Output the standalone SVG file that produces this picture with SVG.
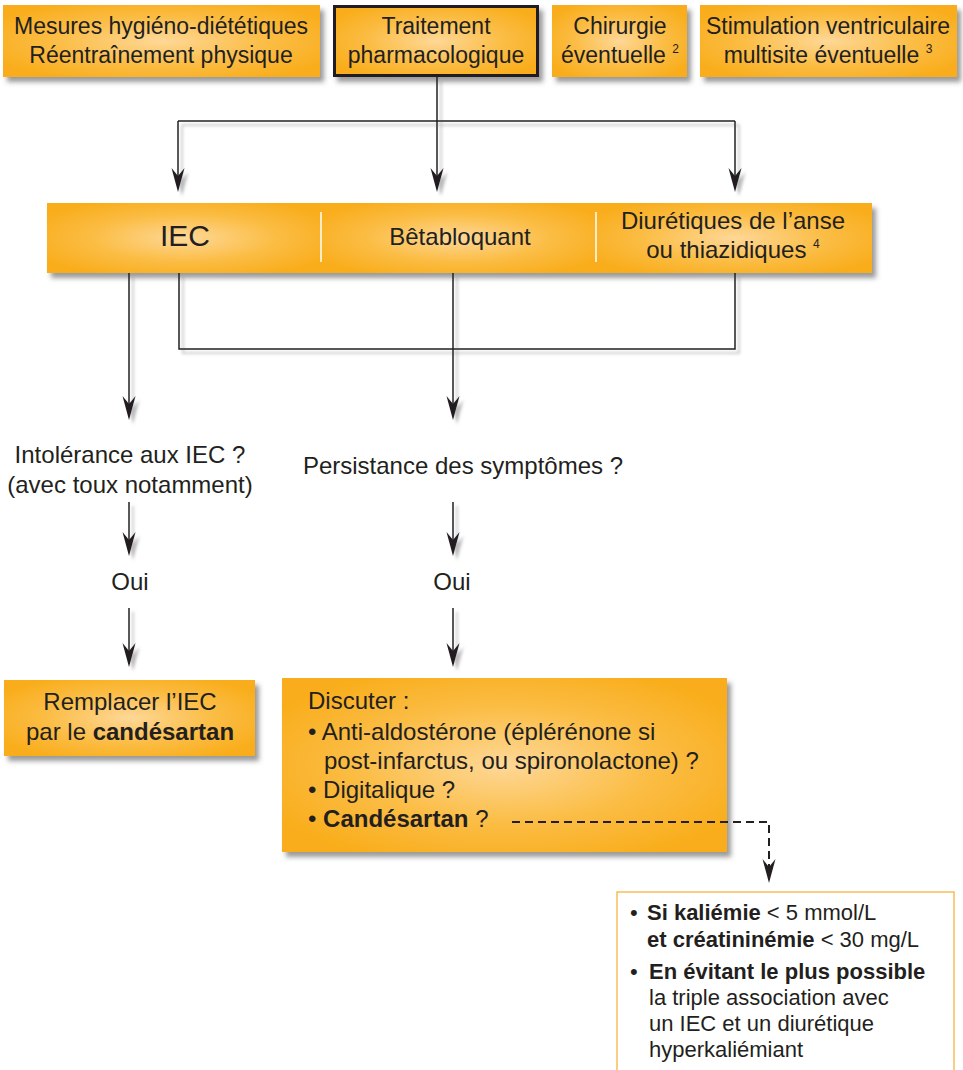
<svg xmlns="http://www.w3.org/2000/svg" width="963" height="1070" viewBox="0 0 963 1070">
<defs>
<radialGradient id="og" cx="0.5" cy="0.5" r="0.6">
<stop offset="0" stop-color="#fed898"/>
<stop offset="0.55" stop-color="#fbbd45"/>
<stop offset="1" stop-color="#f9ad1b"/>
</radialGradient>
<filter id="sh" x="-10%" y="-20%" width="125%" height="150%">
<feDropShadow dx="4" dy="5" stdDeviation="2.5" flood-color="#4a4a4a" flood-opacity="0.55"/>
</filter>
<filter id="lsh" x="-20%" y="-20%" width="140%" height="140%">
<feDropShadow dx="4" dy="4" stdDeviation="1.6" flood-color="#777" flood-opacity="0.5"/>
</filter>
<marker id="ah" markerUnits="userSpaceOnUse" viewBox="-25 -8 26 16" markerWidth="26" markerHeight="16" refX="-4" refY="0" orient="auto">
<path d="M0,0 L-24,-6.5 L-16,0 L-24,6.5 Z" fill="#231f20"/>
</marker>
</defs>
<style>
text{font-family:"Liberation Sans",Arial,sans-serif;fill:#231f20}
.c{text-anchor:middle}
.t23{font-size:23px}
.t24{font-size:24px}
.t22{font-size:22px}
.b{font-weight:bold}
.sup{font-size:12px}
.box{fill:url(#og);filter:url(#sh)}
.ln{fill:none;stroke:#231f20;stroke-width:1.5}
.dash{fill:none;stroke:#231f20;stroke-width:2;stroke-dasharray:8 5}
</style>

<g id="n-mesures">
<rect class="box" x="3" y="5" width="317" height="72"/>
<text class="c t23" x="161" y="34">Mesures hygiéno-diététiques</text>
<text class="c t23" x="161" y="63">Réentraînement physique</text>
</g>

<g id="n-traitement">
<rect class="box" x="334.5" y="6.5" width="203" height="69" stroke="#231f20" stroke-width="3"/>
<text class="c t23" x="436" y="34">Traitement</text>
<text class="c t23" x="436" y="63">pharmacologique</text>
</g>

<g id="n-chirurgie">
<rect class="box" x="552" y="5" width="135" height="72"/>
<text class="c t23" x="620" y="34">Chirurgie</text>
<text class="c t23" x="620" y="63">éventuelle <tspan class="sup" dy="-10">2</tspan></text>
</g>

<g id="n-stimulation">
<rect class="box" x="700" y="5" width="257" height="72"/>
<text class="c t23" x="828" y="34">Stimulation ventriculaire</text>
<text class="c t23" x="828" y="63">multisite éventuelle <tspan class="sup" dy="-10">3</tspan></text>
</g>

<g id="n-bar">
<rect x="47" y="203" width="825" height="70" fill="#f9ad1b" filter="url(#sh)"/>
<rect x="47" y="203" width="274" height="70" fill="url(#og)"/>
<rect x="321" y="203" width="275" height="70" fill="url(#og)"/>
<rect x="596" y="203" width="276" height="70" fill="url(#og)"/>
<path d="M321,212 V262 M596,212 V262" stroke="#fff" stroke-width="1.5"/>
<text class="c" x="185" y="246" font-size="30">IEC</text>
<text class="c t24" x="460" y="245">Bêtabloquant</text>
<text class="c t24" x="733" y="229">Diurétiques de l’anse</text>
<text class="c t24" x="733" y="258">ou thiazidiques <tspan class="sup" dy="-10">4</tspan></text>
</g>

<g id="n-intolerance">
<text class="c t24" x="130" y="463">Intolérance aux IEC ?</text>
<text class="c t24" x="130" y="493">(avec toux notamment)</text>
</g>

<g id="n-persistance">
<text class="c t24" x="463" y="474">Persistance des symptômes ?</text>
</g>

<g id="n-oui1">
<text class="c t24" x="130" y="590">Oui</text>
</g>

<g id="n-oui2">
<text class="c t24" x="452" y="590">Oui</text>
</g>

<g id="n-remplacer">
<rect class="box" x="4" y="680" width="251" height="76"/>
<text class="c t24" x="130" y="710">Remplacer l’IEC</text>
<text class="c t24" x="130" y="740">par le <tspan class="b">candésartan</tspan></text>
</g>

<g id="n-discuter">
<rect class="box" x="282" y="678" width="445" height="174"/>
<text class="t24" x="308" y="709">Discuter :</text>
<text class="t24" x="308" y="740">• Anti-aldostérone (éplérénone si</text>
<text class="t24" x="324" y="769">post-infarctus, ou spironolactone) ?</text>
<text class="t24" x="308" y="798">• Digitalique ?</text>
<text class="t24" x="308" y="827">• <tspan class="b">Candésartan</tspan> ?</text>
</g>

<g id="n-conditions">
<rect x="617" y="892" width="337" height="200" fill="#fff" stroke="#f7b340" stroke-width="1.3"/>
<text class="t22" x="630" y="920">•</text>
<text class="t22" x="647" y="920"><tspan class="b">Si kaliémie</tspan> &lt; 5 mmol/L</text>
<text class="t22" x="647" y="947"><tspan class="b">et créatininémie</tspan> &lt; 30 mg/L</text>
<text class="t22" x="630" y="979">•</text>
<text class="t22 b" x="649" y="979">En évitant le plus possible</text>
<text class="t22" x="649" y="1005">la triple association avec</text>
<text class="t22" x="649" y="1031">un IEC et un diurétique</text>
<text class="t22" x="649" y="1057">hyperkaliémiant</text>
</g>

<g id="connectors">
<g filter="url(#lsh)">
<path class="ln" d="M437,77 V188" marker-end="url(#ah)"/>
<path class="ln" d="M178,121 H735"/>
<path class="ln" d="M178,121 V188" marker-end="url(#ah)"/>
<path class="ln" d="M735,121 V188" marker-end="url(#ah)"/>
<path class="ln" d="M129,273 V416" marker-end="url(#ah)"/>
<path class="ln" d="M179,273 V349 H735 V273" stroke="#3a3a3a"/>
<path class="ln" d="M453,273 V416" marker-end="url(#ah)"/>
<path class="ln" d="M129,502 V552" marker-end="url(#ah)"/>
<path class="ln" d="M129,608 V663" marker-end="url(#ah)"/>
<path class="ln" d="M453,502 V552" marker-end="url(#ah)"/>
<path class="ln" d="M453,608 V663" marker-end="url(#ah)"/>
</g>
<path class="dash" d="M512,822 H769 V879" marker-end="url(#ah)"/>
</g>
</svg>
